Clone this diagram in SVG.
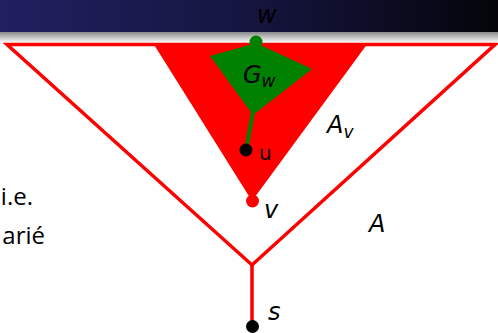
<svg xmlns="http://www.w3.org/2000/svg" width="498" height="333" viewBox="0 0 498 333">
<defs>
<linearGradient id="hdr" x1="0" y1="0" x2="1" y2="0">
<stop offset="0" stop-color="#202060"/>
<stop offset="0.5" stop-color="#151540"/>
<stop offset="1" stop-color="#04040a"/>
</linearGradient>
<linearGradient id="shd" x1="0" y1="0" x2="0" y2="1">
<stop offset="0" stop-color="#8a8a8a"/>
<stop offset="1" stop-color="#ffffff"/>
</linearGradient>
</defs>
<style>
.lbl{font-family:"DejaVu Sans","Liberation Sans",sans-serif;font-size:24px;font-style:italic;fill:#000}
.up{font-family:"DejaVu Sans","Liberation Sans",sans-serif;font-size:20px;fill:#000}
.side{font-family:"Open Sans","Noto Sans",sans-serif;font-size:24px;fill:#000}
.edge{stroke:#ff0000;stroke-width:3.5;fill:none}
</style>
<rect width="498" height="333" fill="#fff"/>
<rect x="0" y="0" width="498" height="32" fill="url(#hdr)"/>
<rect x="0" y="32" width="498" height="11" fill="url(#shd)"/>
<g id="side-text">
<text class="side" x="33" y="205" text-anchor="end">i.e.</text>
<text class="side" x="45" y="244" text-anchor="end">arié</text>
</g>
<g id="A_v">
<polygon points="153,43 368,43 252,201" fill="#ff0000"/>
</g>
<g id="connectors">
<polygon class="edge" points="7,44.5 495,44.5 252,265"/>
<line class="edge" x1="252" y1="265" x2="252" y2="326"/>
<line x1="253" y1="112" x2="246" y2="150" stroke="#008000" stroke-width="4"/>
</g>
<g id="G_w">
<polygon points="210,56 256,43 312,69 253,115" fill="#008000"/>
<text class="lbl" x="243" y="83">G<tspan font-size="17" dy="4">w</tspan></text>
</g>
<g id="w">
<circle cx="256" cy="42" r="6.5" fill="#008000"/>
<text class="lbl" x="257" y="23">w</text>
</g>
<g id="u">
<circle cx="246" cy="150" r="6.5" fill="#000"/>
<text class="up" x="259" y="160">u</text>
</g>
<g id="v">
<circle cx="252.5" cy="201" r="6.5" fill="#ff0000"/>
<text class="lbl" x="264" y="218">v</text>
</g>
<g id="s">
<circle cx="252.5" cy="326.5" r="6.5" fill="#000"/>
<text class="lbl" x="268" y="320">s</text>
</g>
<g id="labels">
<text class="lbl" x="327" y="133">A<tspan font-size="17" dy="5">v</tspan></text>
<text class="lbl" x="369" y="232">A</text>
</g>
</svg>
